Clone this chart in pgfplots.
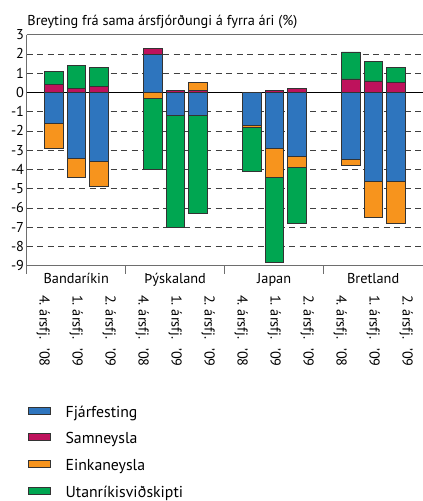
\documentclass[border=0pt]{standalone}
\usepackage{fontspec}
\setmainfont{PT Sans}
\usepackage{pgfplots}
\pgfplotsset{compat=1.18}
\usepackage{pgfplotstable}

\definecolor{fjar}{RGB}{46,117,190}
\definecolor{samn}{RGB}{190,18,92}
\definecolor{eink}{RGB}{247,148,29}
\definecolor{utan}{RGB}{0,166,81}
\definecolor{axgray}{RGB}{110,110,110}

% negative parts, stacked downward from 0
\pgfplotstableread{
x    fjar samn eink utan
1.2  -1.6 0 -1.3 0
2.2  -3.4 0 -1.0 0
3.2  -3.6 0 -1.3 0
5.6   0   0 -0.3 -3.7
6.6  -1.2 0  0   -5.8
7.6  -1.2 0  0   -5.1
10.0 -1.7 0 -0.1 -2.3
11.0 -2.9 0 -1.5 -4.4
12.0 -3.3 0 -0.6 -2.9
14.4 -3.5 0 -0.3 0
15.4 -4.6 0 -1.9 0
16.4 -4.6 0 -2.2 0
}\negdata
% positive parts, stacked upward from 0
\pgfplotstableread{
x    fjar samn eink utan
1.2  0   0.4 0   0.7
2.2  0   0.2 0   1.2
3.2  0   0.3 0   1.0
5.6  2.0 0.3 0   0
6.6  0   0.1 0   0
7.6  0   0.1 0.4 0
10.0 0   0   0   0
11.0 0   0.1 0   0
12.0 0   0.2 0   0
14.4 0   0.7 0   1.4
15.4 0   0.6 0   1.0
16.4 0   0.5 0   0.8
}\posdata

\newcommand\qtr[2]{#1.\hspace{4pt}ársfj.\hspace{9pt}'#2}

\pgfplotsset{
  common/.style={
    scale only axis, width=396pt, height=231pt,
    at={(0,0)}, anchor=south west,
    xmin=0, xmax=17.6, ymin=-9, ymax=3,
    ybar stacked, bar width=0.81,
  },
  seg/.style={fill=#1, draw=black!80, line width=0.5pt},
}

\begin{document}
\begin{tikzpicture}[font=\fontsize{14.3}{16}\selectfont]
\path[use as bounding box] (-26.7pt,-235.4pt) rectangle (396.3pt,265.6pt);
\begin{axis}[common, clip=false,
  axis x line*=box, axis y line*=left,
  axis line style={axgray, line width=0.6pt},
  major tick length=0pt,
  ytick={-9,...,3},
  yticklabels={-9,-8,-7,-6,-5,-4,-3,-2,-1,0,1,2,3},
  yticklabel style={inner sep=2.5pt},
  ymajorgrids,
  major grid style={black!75, line width=0.5pt, dash pattern=on 6pt off 4.5pt},
  extra y ticks={0}, extra y tick labels={},
  extra y tick style={major grid style={solid, black, line width=0.6pt}},
  xtick pos=bottom,
  xtick={0.733,2.2,3.667,5.133,6.6,8.067,9.533,11,12.467,13.933,15.4,16.867},
  xticklabels={\qtr{4}{08},\qtr{1}{09},\qtr{2}{09},
               \qtr{4}{08},\qtr{1}{09},\qtr{2}{09},
               \qtr{4}{08},\qtr{1}{09},\qtr{2}{09},
               \qtr{4}{08},\qtr{1}{09},\qtr{2}{09}},
  xticklabel style={rotate=-90, anchor=west},
  xticklabel shift=26pt,
  extra x ticks={0,4.4,8.8,13.2}, extra x tick labels={},
  extra x tick style={major tick length=8pt, tick align=outside,
                      tick style={axgray, line width=0.6pt}},
]
\addplot[seg=fjar] table[x=x, y=fjar] {\negdata};
\addplot[seg=samn] table[x=x, y=samn] {\negdata};
\addplot[seg=eink] table[x=x, y=eink] {\negdata};
\addplot[seg=utan] table[x=x, y=utan] {\negdata};
\node[anchor=base, yshift=-17.5pt] at (axis cs:2.2,-9) {Bandaríkin};
\node[anchor=base, yshift=-17.5pt] at (axis cs:6.6,-9) {Þýskaland};
\node[anchor=base, yshift=-17.5pt] at (axis cs:11,-9) {Japan};
\node[anchor=base, yshift=-17.5pt] at (axis cs:15.4,-9) {Bretland};
\end{axis}
\begin{axis}[common, hide axis,
  legend cell align=left,
  legend style={at={(0,0)}, anchor=north west, xshift=1.5pt, yshift=-141pt,
    draw=none, fill=none, inner sep=0pt, row sep=13.4pt, column sep=14.7pt,
    font=\fontsize{15.8}{18}\selectfont,
    nodes={inner sep=0pt, text height=10pt, text depth=3pt}},
  legend image code/.code={\draw[#1] (0pt,-0.5pt) rectangle (22pt,6.5pt);},
]
\addplot[seg=fjar] table[x=x, y=fjar] {\posdata};
\addlegendentry{Fjárfesting}
\addplot[seg=samn] table[x=x, y=samn] {\posdata};
\addlegendentry{Samneysla}
\addplot[seg=eink] table[x=x, y=eink] {\posdata};
\addlegendentry{Einkaneysla}
\addplot[seg=utan] table[x=x, y=utan] {\posdata};
\addlegendentry{Utanríkisviðskipti}
\end{axis}
\node[anchor=base west, inner sep=0pt] at (0.5pt,239.6pt) {Breyting frá sama ársfjórðungi á fyrra ári (\%)};
\end{tikzpicture}
\end{document}
